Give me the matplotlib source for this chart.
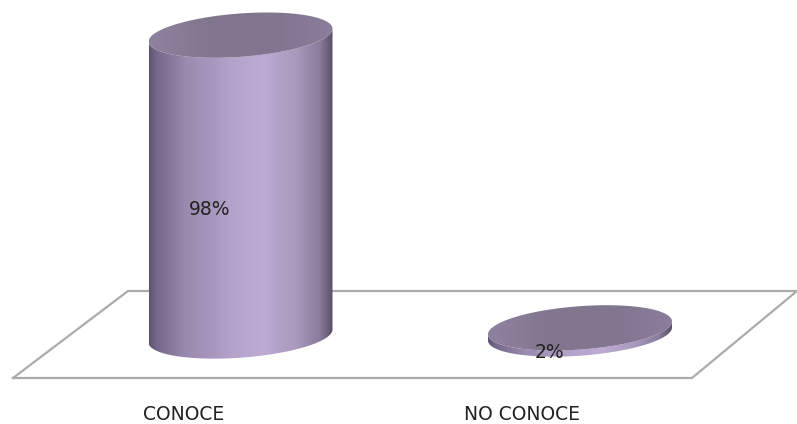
import numpy as np
from matplotlib import pyplot as plt
from matplotlib.colors import LinearSegmentedColormap
from matplotlib.patches import Polygon

categorias = ["CONOCE", "NO CONOCE"]
porcentajes = [98, 2]

W, H = 797, 424
CENTROS_PX = [240.5, 580]  # centro de cada cilindro en pixeles
BASE_PX = 336  # y de la base
PX_POR_PCT = 3.07
RX_PX = 92  # media anchura del cilindro
RY_PX = 21.7
INCLINACION_PX = 6.5

cuerpo = LinearSegmentedColormap.from_list(
    "cuerpo",
    [(0, "#5F5470"), (0.04, "#75688A"), (0.2, "#9A8AAE"), (0.45, "#B3A2C9"),
     (0.62, "#BDABD3"), (0.8, "#A999BC"), (0.93, "#8A7C9C"), (1, "#5A5068")],
)
tapa = LinearSegmentedColormap.from_list(
    "tapa", [(0, "#8E82A0"), (0.3, "#83778F"), (0.7, "#817590"), (1, "#8A7E9C")]
)

fig = plt.figure(figsize=(W / 100, H / 100), dpi=100)
ax = fig.add_axes([0, 0, 1, 1])

# ejes: x en categorias, y en porcentaje
px_cat = CENTROS_PX[1] - CENTROS_PX[0]
xlim = (-CENTROS_PX[0] / px_cat, (W - CENTROS_PX[0]) / px_cat)
ylim = (-(H - BASE_PX) / PX_POR_PCT, BASE_PX / PX_POR_PCT)


def px(x, y):
    """Pasa pixeles de la imagen a coordenadas de los ejes."""
    return (np.asarray(x) - CENTROS_PX[0]) / px_cat, (BASE_PX - np.asarray(y)) / PX_POR_PCT


def elipse(i, valor, t):
    x = i + RX_PX / px_cat * np.cos(t)
    y = valor + (INCLINACION_PX * np.cos(t) + RY_PX * np.sin(t)) / PX_POR_PCT
    return x, y


def gradiente(mapa, i, y0, y1, clip):
    izq, der = i - RX_PX / px_cat, i + RX_PX / px_cat
    im = ax.imshow(np.linspace(0, 1, 256).reshape(1, -1), cmap=mapa, aspect="auto",
                   extent=(izq, der, y0, y1), zorder=3, interpolation="bilinear")
    im.set_clip_path(clip)


# suelo
sx, sy = px([13, 128, 797, 692, 13], [378, 291, 291, 378, 378])
ax.plot(sx, sy, color="#ABABAB", lw=1.6, zorder=1, solid_joinstyle="miter")

for i, v in enumerate(porcentajes):
    desp = (336 - 334) / PX_POR_PCT if i == 1 else 0  # la segunda base queda algo mas arriba
    t = np.linspace(0, 2 * np.pi, 200)
    # contorno del cuerpo: mitad inferior de la base + mitad inferior de la tapa al reves
    t_inf = np.linspace(np.pi, 2 * np.pi, 100)
    bx, by = elipse(i, desp, t_inf)
    tx, ty = elipse(i, v + desp, t_inf[::-1])
    contorno = Polygon(np.c_[np.r_[bx, tx], np.r_[by, ty]], closed=True,
                       transform=ax.transData, fc="none", ec="none")
    ax.add_patch(contorno)
    gradiente(cuerpo, i, desp - 10, v + desp + 10, contorno)

    cx, cy = elipse(i, v + desp, t)
    cara = Polygon(np.c_[cx, cy], closed=True, transform=ax.transData, fc="none", ec="none")
    ax.add_patch(cara)
    gradiente(tapa, i, v + desp - 10, v + desp + 10, cara)

# etiquetas de porcentaje
pos_pct = [(210, 209), (549, 353)]
for v, (x, y) in zip(porcentajes, pos_pct):
    dx, dy = px(x, y)
    ax.text(dx, dy, f"{v}%", ha="center", va="center", fontsize=13.5,
            color="#222222", zorder=5)

# etiquetas de categoria
pos_cat = [(184, 414), (522, 414)]
for c, (x, y) in zip(categorias, pos_cat):
    dx, dy = px(x, y)
    ax.text(dx, dy, c, ha="center", va="center", fontsize=13.5,
            color="#222222", zorder=5)

ax.set_xlim(xlim)
ax.set_ylim(ylim)
ax.axis("off")

fig.savefig("out.png", dpi=100)
